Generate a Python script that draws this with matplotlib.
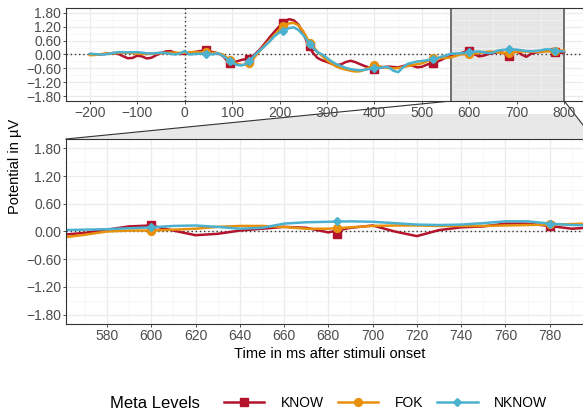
import matplotlib
matplotlib.use('Agg')
import matplotlib.pyplot as plt
import matplotlib.ticker as mticker
import numpy as np
from matplotlib.lines import Line2D
from matplotlib.patches import Polygon

plt.rcParams['font.family'] = ['Liberation Sans', 'DejaVu Sans']

# time axis (ms), one sample every 10 ms
times = list(range(-200, 801, 10))

know = [0.02, 0.01, 0.00, 0.02, 0.05, 0.06, 0.03, -0.07, -0.16, -0.15,
        -0.05, -0.08, -0.17, -0.14, -0.03, 0.06, 0.13, 0.15, 0.07, 0.02,
        0.03, 0.06, 0.10, 0.14, 0.17, 0.16, 0.10, 0.05, -0.05, -0.28,
        -0.37, -0.30, -0.23, -0.20, -0.14, 0.05, 0.25, 0.50, 0.76, 1.00,
        1.22, 1.40, 1.52, 1.47, 1.28, 0.92, 0.42, 0.08, -0.15, -0.25,
        -0.32, -0.40, -0.46, -0.42, -0.32, -0.27, -0.33, -0.42, -0.50, -0.57,
        -0.60, -0.58, -0.54, -0.52, -0.54, -0.55, -0.50, -0.45, -0.48, -0.55,
        -0.53, -0.44, -0.38, -0.33, -0.24, -0.14, -0.07, -0.03, 0.04, 0.11,
        0.13, 0.02, -0.08, -0.05, 0.02, 0.06, 0.10, 0.08, -0.02, 0.08,
        0.13, 0.00, -0.10, 0.03, 0.09, 0.11, 0.17, 0.17, 0.12, 0.06,
        0.09]

fok = [-0.03, -0.02, 0.00, 0.03, 0.05, 0.06, 0.07, 0.08, 0.08, 0.06,
       0.04, 0.02, 0.02, 0.04, 0.05, 0.06, 0.07, 0.08, 0.08, 0.07,
       0.08, 0.10, 0.11, 0.10, 0.09, 0.08, 0.07, 0.06, 0.00, -0.15,
       -0.30, -0.40, -0.45, -0.43, -0.30, -0.05, 0.20, 0.42, 0.63, 0.85,
       1.08, 1.25, 1.34, 1.36, 1.25, 1.00, 0.62, 0.35, 0.12, -0.07,
       -0.25, -0.40, -0.52, -0.60, -0.65, -0.70, -0.73, -0.72, -0.65, -0.55,
       -0.48, -0.50, -0.55, -0.58, -0.60, -0.58, -0.54, -0.50, -0.45, -0.42,
       -0.38, -0.30, -0.20, -0.17, -0.16, -0.15, -0.13, -0.07, 0.00, 0.02,
       0.02, 0.04, 0.06, 0.10, 0.12, 0.12, 0.10, 0.06, 0.06, 0.09,
       0.12, 0.13, 0.13, 0.12, 0.12, 0.12, 0.13, 0.14, 0.15, 0.16,
       0.18]

nknow = [0.03, 0.02, 0.00, 0.00, 0.03, 0.07, 0.10, 0.10, 0.09, 0.10,
         0.10, 0.08, 0.05, 0.04, 0.06, 0.08, 0.06, 0.03, 0.00, 0.04,
         0.15, 0.00, 0.02, 0.03, 0.04, 0.06, 0.00, 0.06, -0.05, -0.20,
         -0.35, -0.45, -0.47, -0.40, -0.20, 0.02, 0.20, 0.38, 0.58, 0.80,
         0.95, 1.05, 1.13, 1.17, 1.05, 0.83, 0.55, 0.30, 0.10, 0.00,
         -0.15, -0.30, -0.42, -0.50, -0.58, -0.63, -0.66, -0.68, -0.66, -0.62,
         -0.60, -0.58, -0.54, -0.55, -0.70, -0.76, -0.55, -0.40, -0.35, -0.30,
         -0.28, -0.25, -0.20, -0.17, -0.10, -0.05, 0.03, 0.04, 0.05, 0.07,
         0.09, 0.12, 0.13, 0.10, 0.06, 0.08, 0.17, 0.20, 0.21, 0.22,
         0.21, 0.18, 0.15, 0.14, 0.15, 0.18, 0.22, 0.22, 0.17, 0.14,
         0.13]

# marker positions
mark_times = [44, 96, 136, 208, 264, 400, 524, 600, 684, 780]
know_marks = [0.20, -0.37, -0.20, 1.37, 0.36, -0.62, -0.38, 0.14, -0.05, 0.12]
fok_marks = [0.09, -0.25, -0.38, 1.22, 0.48, -0.46, -0.17, 0.00, 0.08, 0.16]
nknow_marks = [0.04, -0.30, -0.30, 1.03, 0.45, -0.60, -0.20, 0.09, 0.22, 0.17]

levels = ['KNOW', 'FOK', 'NKNOW']
colors = ['#b3142b', '#e8900c', '#4cb1cf']
markers = ['s', 'o', 'D']
msizes = [5.8, 5.6, 3.6]

y_ticks = [-1.8, -1.2, -0.6, 0.0, 0.6, 1.2, 1.8]
y_minor = [-1.5, -0.9, -0.3, 0.3, 0.9, 1.5]
top_xticks = list(range(-200, 801, 100))
zoom_xticks = list(range(580, 781, 20))
zoom_range = (561.5, 800)

W, H = 583, 415
fig = plt.figure(figsize=(W / 100, H / 100), dpi=100)

def px_box(left, top, right, bottom):
    return [left / W, 1 - bottom / H, (right - left) / W, (bottom - top) / H]

ax_top = fig.add_axes(px_box(66, 8, 588, 101))
ax_bot = fig.add_axes(px_box(66, 139, 594, 324))

def fmt(v, pos):
    s = '{:.2f}'.format(round(v, 2) + 0.0)
    return s.replace('-', '\u2212')

def fmt_int(v, pos):
    return '{:d}'.format(int(round(v))).replace('-', '\u2212')

series = [know, fok, nknow]
marks = [know_marks, fok_marks, nknow_marks]

for ax in (ax_top, ax_bot):
    ax.set_axisbelow(True)
    ax.set_ylim(-2.0, 2.0)
    ax.set_yticks(y_ticks)
    ax.set_yticks(y_minor, minor=True)
    ax.yaxis.set_major_formatter(mticker.FuncFormatter(fmt))
    ax.xaxis.set_major_formatter(mticker.FuncFormatter(fmt_int))
    ax.grid(True, which='major', color='#ebebeb', lw=0.9)
    ax.grid(True, which='minor', color='#f4f4f4', lw=0.5)
    ax.tick_params(which='major', direction='out', length=2, width=0.6,
                   color='#333333', labelcolor='#4d4d4d', labelsize=10, pad=1.5)
    ax.tick_params(which='minor', length=0)
    for sp in ax.spines.values():
        sp.set_color('#333333')
        sp.set_linewidth(0.8)
    ax.axhline(0, color='#333333', lw=1.0, ls=(0, (1, 2)), zorder=1)
    for vals, mk, c, m, ms in zip(series, marks, colors, markers, msizes):
        ax.plot(times, vals, color=c, lw=1.8, zorder=2, solid_capstyle='round')
        ax.plot(mark_times, mk, ls='none', marker=m, ms=ms, color=c, zorder=2)

ax_top.set_xlim(-250, 850)
ax_top.set_xticks(top_xticks)
ax_top.set_xticks(list(range(-250, 851, 100)), minor=True)
ax_top.axvline(0, color='#333333', lw=1.0, ls=(0, (1, 2)), zorder=1)
ax_top.axvspan(zoom_range[0], zoom_range[1], color='#e6e6e6', zorder=0.3, lw=0)
for xv in zoom_range:
    ax_top.axvline(xv, color='#707070', lw=1.4, zorder=1.5)

ax_bot.set_xlim(*zoom_range)
ax_bot.set_xticks(zoom_xticks)
ax_bot.set_xticks(list(range(570, 791, 20)), minor=True)

# connector between the zoom box and the lower panel
inv = fig.transFigure.inverted()
p1 = inv.transform(ax_top.get_xaxis_transform().transform((zoom_range[0], 0)))
p2 = inv.transform(ax_top.get_xaxis_transform().transform((zoom_range[1], 0)))
p3 = inv.transform(ax_bot.transAxes.transform((1, 1)))
p4 = inv.transform(ax_bot.transAxes.transform((0, 1)))
# fill only below the tick-label band
cut = 1 - 114 / H
f = (p1[1] - cut) / (p1[1] - p4[1])
q1 = p1 + f * (p4 - p1)
q2 = p2 + f * (p3 - p2)
fig.add_artist(Polygon([q1, q2, p3, p4], closed=True, transform=fig.transFigure,
                       facecolor='#e8e8e8', edgecolor='none', zorder=-2))
for a, b in ((p1, p4), (p2, p3)):
    fig.add_artist(Line2D([a[0], b[0]], [a[1], b[1]], transform=fig.transFigure,
                          color='#333333', lw=0.8, zorder=-1))

fig.text(15 / W, 1 - 166 / H, 'Potential in \u00b5V', rotation=90,
         ha='center', va='center', fontsize=10.5)
fig.text(330 / W, 1 - 354 / H, 'Time in ms after stimuli onset',
         ha='center', va='center', fontsize=10.5)

fig.text(110 / W, 1 - 403 / H, 'Meta Levels', ha='left', va='center', fontsize=12)
handles = [Line2D([], [], color=c, lw=1.8, marker=m, ms=ms)
           for c, m, ms in zip(colors, markers, msizes)]
fig.legend(handles, levels, ncol=3, loc='center left',
           bbox_to_anchor=(217 / W, 1 - 403 / H), frameon=False, fontsize=10,
           handlelength=2.9, handletextpad=1.2, columnspacing=1.0, borderpad=0)

fig.savefig('out.png', dpi=100)
